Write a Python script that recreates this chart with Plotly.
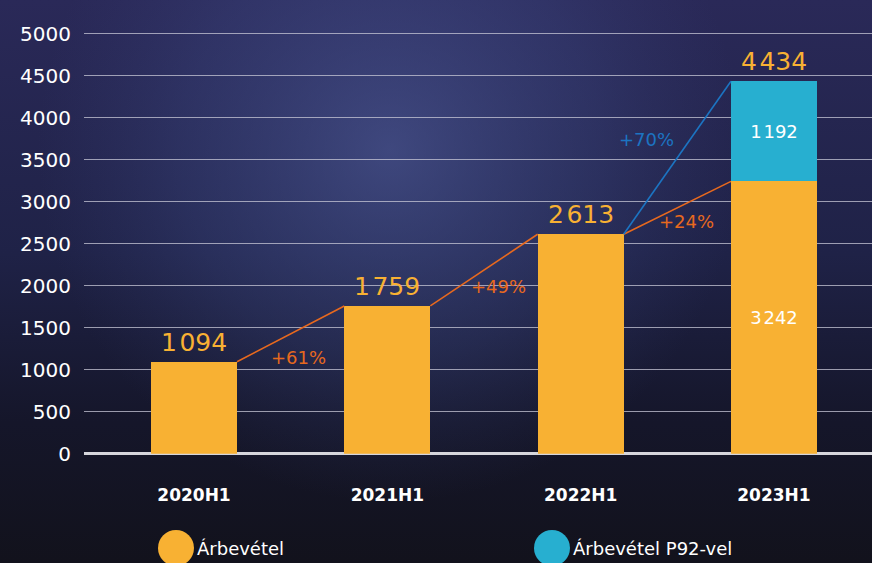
import plotly.graph_objects as go

# data
periods = ['2020H1', '2021H1', '2022H1', '2023H1']
revenue = [1094, 1759, 2613, 3242]          # Árbevétel
p92 = [None, None, None, 1192]              # P92 addition
totals = [1094, 1759, 2613, 4434]
growth = ['+61%', '+49%', '+24%']
growth_p92 = '+70%'

W, H = 872, 563
FONT = 'DejaVu Sans'
ORANGE = '#f8b133'
CYAN = '#27afd0'
LINE_OR = '#e8691e'
LINE_BL = '#1c74c2'

def fmt(v):
    return f'{v:,}'.replace(',', '\u200a')

bw = 0.445
xs = list(range(len(periods)))

fig = go.Figure()

# background (on the first, full-page axes so it sits under the chart)
rect_x = [0, W, W, 0, 0]
rect_y = [0, 0, H, H, 0]
fig.add_trace(go.Scatter(x=rect_x, y=rect_y, fill='toself', mode='none',
                         fillgradient=dict(type='vertical',
                                           colorscale=[[0, '#12121c'], [0.25, '#15162a'],
                                                       [0.55, '#1f2247'], [1, '#2a2958']]),
                         hoverinfo='skip', showlegend=False, xaxis='x', yaxis='y'))
cx, cy, r = 390, H - 150, 470
fig.add_trace(go.Scatter(x=[cx - r, cx + r, cx + r, cx - r, cx - r],
                         y=[cy - r, cy - r, cy + r, cy + r, cy - r],
                         fill='toself', mode='none',
                         fillgradient=dict(type='radial',
                                           colorscale=[[0, 'rgba(85,100,165,0.55)'],
                                                       [0.45, 'rgba(70,85,150,0.25)'],
                                                       [0.75, 'rgba(60,70,130,0)'],
                                                       [1, 'rgba(60,70,130,0)']]),
                         hoverinfo='skip', showlegend=False, xaxis='x', yaxis='y'))

# bars
fig.add_trace(go.Bar(x=xs, y=revenue, width=bw, marker=dict(color=ORANGE, line_width=0),
                     name='Árbevétel',
                     text=['', '', '', fmt(revenue[3])], textposition='inside',
                     insidetextanchor='middle',
                     textfont=dict(family=FONT, size=18, color='white'),
                     xaxis='x2', yaxis='y2', showlegend=False))
fig.add_trace(go.Bar(x=xs, y=p92, width=bw, marker=dict(color=CYAN, line_width=0),
                     name='Árbevétel P92-vel',
                     text=['', '', '', fmt(p92[3])], textposition='inside',
                     insidetextanchor='middle',
                     textfont=dict(family=FONT, size=18, color='white'),
                     xaxis='x2', yaxis='y2', showlegend=False))

# connector lines
lx, ly = [], []
for i in range(len(revenue) - 1):
    lx += [i + bw / 2, i + 1 - bw / 2, None]
    ly += [revenue[i], revenue[i + 1], None]
fig.add_trace(go.Scatter(x=lx, y=ly, mode='lines', line=dict(color=LINE_OR, width=1.6),
                         hoverinfo='skip', showlegend=False, xaxis='x2', yaxis='y2'))
fig.add_trace(go.Scatter(x=[2 + bw / 2, 3 - bw / 2], y=[revenue[2], totals[3]], mode='lines',
                         line=dict(color=LINE_BL, width=1.6),
                         hoverinfo='skip', showlegend=False, xaxis='x2', yaxis='y2'))

# value labels above bars
for i, t in enumerate(totals):
    fig.add_annotation(x=i, y=t, xref='x2', yref='y2', text=fmt(t), showarrow=False,
                       yanchor='bottom', yshift=3,
                       font=dict(family=FONT, size=25, color=ORANGE))

# growth labels
gpos = [(0.538, 1151), (1.573, 1985), (2.55, 2770)]
for (gx, gy), g in zip(gpos, growth):
    fig.add_annotation(x=gx, y=gy, xref='x2', yref='y2', text=g, showarrow=False,
                       font=dict(family=FONT, size=18, color=LINE_OR))
fig.add_annotation(x=2.338, y=3746, xref='x2', yref='y2', text=growth_p92, showarrow=False,
                   font=dict(family=FONT, size=18, color=LINE_BL))

# legend (custom circles)
for x0, col, label in [(158, ORANGE, 'Árbevétel'), (534, CYAN, 'Árbevétel P92-vel')]:
    fig.add_shape(type='circle', xref='paper', yref='paper',
                  x0=x0 / W, x1=(x0 + 36) / W, y0=1 - 566 / H, y1=1 - 530 / H,
                  fillcolor=col, line_width=0)
    fig.add_annotation(xref='paper', yref='paper', x=(x0 + 37) / W, y=1 - 548 / H,
                       xanchor='left', yanchor='middle', text=label, showarrow=False,
                       font=dict(family=FONT, size=18, color='white'))

x_lo = -0.569
x_hi = 3.507
y_top = 433.7 / 0.084

fig.update_layout(
    width=W, height=H,
    margin=dict(l=0, r=0, t=0, b=0),
    paper_bgcolor='#14141f', plot_bgcolor='rgba(0,0,0,0)',
    barmode='stack', bargap=0,
    xaxis=dict(domain=[0, 1], range=[0, W], visible=False, fixedrange=True, automargin=False),
    yaxis=dict(domain=[0, 1], range=[0, H], visible=False, fixedrange=True, automargin=False),
    xaxis2=dict(domain=[84 / W, 1], range=[x_lo, x_hi], anchor='y2', automargin=False,
                tickvals=xs, ticktext=periods, showgrid=False, zeroline=False,
                ticks='', ticklabelstandoff=29,
                tickfont=dict(family=FONT, size=17, color='white', weight='bold')),
    yaxis2=dict(domain=[(H - 453.7) / H, (H - 20) / H], range=[0, y_top], anchor='x2',
                automargin=False,
                tickvals=[0, 500, 1000, 1500, 2000, 2500, 3000, 3500, 4000, 4500, 5000],
                showgrid=True, gridcolor='rgba(200,200,215,0.75)', gridwidth=1.4,
                zeroline=True, zerolinecolor='#d6d6dc', zerolinewidth=2.5,
                ticks='', ticklabelstandoff=12,
                tickfont=dict(family=FONT, size=20, color='white')),
    font=dict(family=FONT),
)

fig.write_html('out.html', config={'displayModeBar': False},
               post_script="document.body.style.margin='0';document.body.style.overflow='hidden';")
